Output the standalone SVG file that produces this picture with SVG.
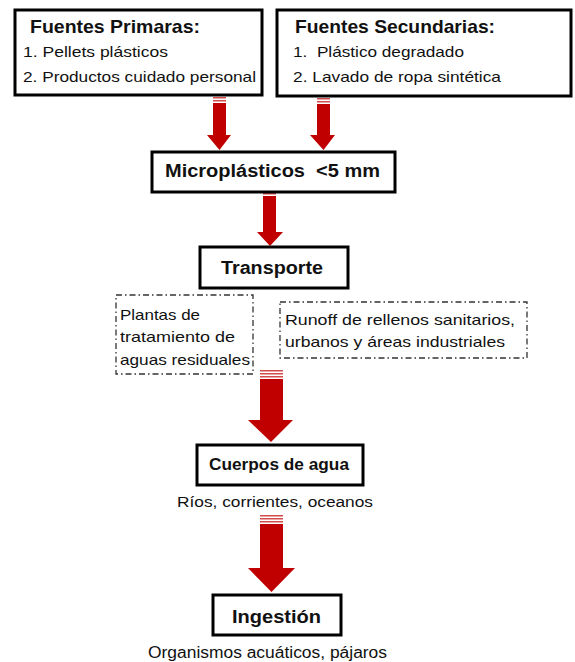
<svg xmlns="http://www.w3.org/2000/svg" width="575" height="662" viewBox="0 0 575 662" xml:space="preserve">
<style>
.box{fill:#fff;stroke:#000;stroke-width:3}
.dash{fill:#fff;stroke:#333;stroke-width:1.3;stroke-dasharray:6 3 1.5 3}
.t{font-family:"Liberation Sans",Arial,sans-serif;fill:#111;white-space:pre}
.b{font-weight:bold}
.arrow{fill:#C00000}
.stripe{fill:#C00000;opacity:0.7}
</style>
<rect width="575" height="662" fill="#fff"/>
<g id="connectors">
  <g id="a1">
    <rect class="stripe" x="213" y="97" width="13" height="1.5"/>
    <rect class="stripe" x="213" y="100" width="13" height="1.5"/>
    <polygon class="arrow" points="213,103 226,103 226,135 231,135 219.5,150 207,135 213,135"/>
  </g>
  <g id="a2">
    <rect class="stripe" x="317" y="98" width="13" height="1.5"/>
    <rect class="stripe" x="317" y="101" width="13" height="1.5"/>
    <polygon class="arrow" points="317,104 330,104 330,135 335,135 323.5,150 310,135 317,135"/>
  </g>
  <g id="a3">
    <rect class="stripe" x="263" y="193" width="13" height="1.5"/>
    <polygon class="arrow" points="263,196 276,196 276,232 283,232 270,246 257,232 263,232"/>
  </g>
  <g id="a4">
    <rect class="stripe" x="260" y="370" width="23" height="1.5"/>
    <rect class="stripe" x="260" y="373" width="23" height="1.5"/>
    <rect class="stripe" x="260" y="376" width="23" height="1.5"/>
    <polygon class="arrow" points="260,379 283,379 283,420 293,420 271,442 248,420 260,420"/>
  </g>
  <g id="a5">
    <rect class="stripe" x="260" y="515" width="23" height="1.5"/>
    <rect class="stripe" x="260" y="518" width="23" height="1.5"/>
    <rect class="stripe" x="260" y="521" width="23" height="1.5"/>
    <polygon class="arrow" points="260,524 283,524 283,568 295,568 271.5,592 248,568 260,568"/>
  </g>
</g>
<g id="primarias">
  <rect class="box" x="15" y="10" width="247" height="85"/>
  <text class="t b" x="30" y="33" font-size="19" textLength="170" lengthAdjust="spacingAndGlyphs">Fuentes Primaras:</text>
  <text class="t" x="23" y="57" font-size="15" textLength="145" lengthAdjust="spacingAndGlyphs">1. Pellets plásticos</text>
  <text class="t" x="23" y="82" font-size="15" textLength="233" lengthAdjust="spacingAndGlyphs">2. Productos cuidado personal</text>
</g>
<g id="secundarias">
  <rect class="box" x="277" y="10" width="294" height="86"/>
  <text class="t b" x="295" y="33" font-size="19" textLength="200" lengthAdjust="spacingAndGlyphs">Fuentes Secundarias:</text>
  <text class="t" x="293" y="57" font-size="15" textLength="171" lengthAdjust="spacingAndGlyphs">1.  Plástico degradado</text>
  <text class="t" x="293" y="82" font-size="15" textLength="208" lengthAdjust="spacingAndGlyphs">2. Lavado de ropa sintética</text>
</g>
<g id="microplasticos">
  <rect class="box" x="152" y="152" width="243" height="40"/>
  <text class="t b" x="165" y="177" font-size="17.5" textLength="215" lengthAdjust="spacingAndGlyphs">Microplásticos  &lt;5 mm</text>
</g>
<g id="transporte">
  <rect class="box" x="200" y="247" width="148" height="41"/>
  <text class="t b" x="221" y="274" font-size="18" textLength="102" lengthAdjust="spacingAndGlyphs">Transporte</text>
</g>
<g id="plantas">
  <rect class="dash" x="116" y="295" width="137" height="79"/>
  <text class="t" x="120" y="320" font-size="15" textLength="80" lengthAdjust="spacingAndGlyphs">Plantas de</text>
  <text class="t" x="120" y="342" font-size="15" textLength="115" lengthAdjust="spacingAndGlyphs">tratamiento de</text>
  <text class="t" x="120" y="365" font-size="15" textLength="130" lengthAdjust="spacingAndGlyphs">aguas residuales</text>
</g>
<g id="runoff">
  <rect class="dash" x="280" y="302" width="247" height="56"/>
  <text class="t" x="285" y="325" font-size="15" textLength="230" lengthAdjust="spacingAndGlyphs">Runoff de rellenos sanitarios,</text>
  <text class="t" x="285" y="347" font-size="15" textLength="220" lengthAdjust="spacingAndGlyphs">urbanos y áreas industriales</text>
</g>
<g id="cuerpos">
  <rect class="box" x="197" y="445" width="166" height="40"/>
  <text class="t b" x="209" y="470" font-size="16.5" textLength="140" lengthAdjust="spacingAndGlyphs">Cuerpos de agua</text>
  <text class="t" x="177" y="507" font-size="15.5" textLength="196" lengthAdjust="spacingAndGlyphs">Ríos, corrientes, oceanos</text>
</g>
<g id="ingestion">
  <rect class="box" x="213" y="595" width="128" height="40"/>
  <text class="t b" x="232" y="623" font-size="18" textLength="89" lengthAdjust="spacingAndGlyphs">Ingestión</text>
  <text class="t" x="148" y="658" font-size="16" textLength="239" lengthAdjust="spacingAndGlyphs">Organismos acuáticos, pájaros</text>
</g>
</svg>
